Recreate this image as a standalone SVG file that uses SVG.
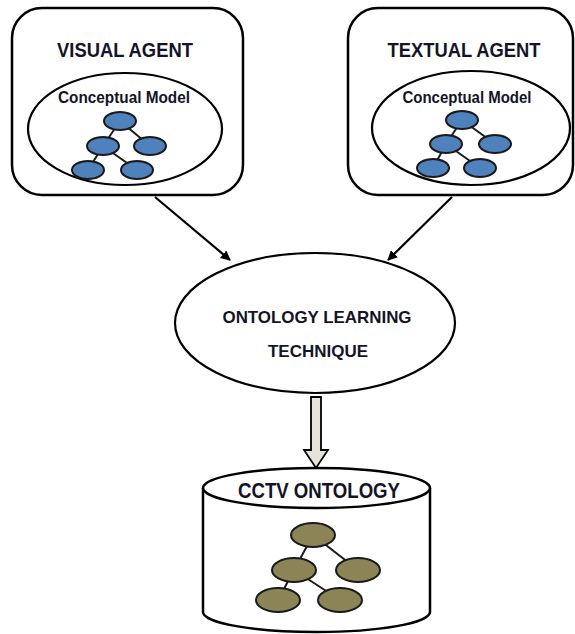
<svg xmlns="http://www.w3.org/2000/svg" width="575" height="634" viewBox="0 0 575 634">
<style>
.box{fill:#fff;stroke:#000;stroke-width:2.5}
.ell{fill:#fff;stroke:#000;stroke-width:2.2}
.t{font-family:"Liberation Sans",Arial,sans-serif;font-weight:bold;fill:#141428;text-anchor:middle}
.bn{fill:#4f81bd;stroke:#1a1a1a;stroke-width:2}
.on{fill:#8a8456;stroke:#1a1a1a;stroke-width:2}
.tl{stroke:#1a1a1a;stroke-width:2}
.c{stroke:#000;stroke-width:2.2;fill:none}
</style>
<defs>
<marker id="ah" markerWidth="10" markerHeight="10" refX="9" refY="5" orient="auto" markerUnits="userSpaceOnUse" viewBox="0 0 10 10">
<path d="M0,0 L10,5 L0,10 z" fill="#000"/>
</marker>
</defs>
<g id="visual-agent">
<rect class="box" x="12" y="8" width="231" height="187" rx="30"/>
<text class="t" x="125" y="57" font-size="19.5" textLength="136" lengthAdjust="spacingAndGlyphs">VISUAL AGENT</text>
<ellipse class="ell" cx="125" cy="129" rx="97" ry="56"/>
<text class="t" x="124" y="103" font-size="16" textLength="132" lengthAdjust="spacingAndGlyphs">Conceptual Model</text>
<line class="tl" x1="120" y1="121" x2="103" y2="146"/>
<line class="tl" x1="120" y1="121" x2="150" y2="146"/>
<line class="tl" x1="103" y1="146" x2="88" y2="170"/>
<line class="tl" x1="103" y1="146" x2="137" y2="170"/>
<ellipse class="bn" cx="120" cy="121" rx="16" ry="9"/>
<ellipse class="bn" cx="103" cy="146" rx="16" ry="9"/>
<ellipse class="bn" cx="150" cy="146" rx="16" ry="9"/>
<ellipse class="bn" cx="88" cy="170" rx="16" ry="9"/>
<ellipse class="bn" cx="137" cy="170" rx="16" ry="9"/>
</g>
<g id="textual-agent">
<rect class="box" x="348" y="8" width="225" height="187" rx="30"/>
<text class="t" x="464" y="57" font-size="19.5" textLength="153" lengthAdjust="spacingAndGlyphs">TEXTUAL AGENT</text>
<ellipse class="ell" cx="471" cy="128" rx="99" ry="57"/>
<text class="t" x="467" y="103" font-size="16" textLength="129" lengthAdjust="spacingAndGlyphs">Conceptual Model</text>
<line class="tl" x1="462" y1="120" x2="446" y2="144"/>
<line class="tl" x1="462" y1="120" x2="495" y2="144"/>
<line class="tl" x1="446" y1="144" x2="433" y2="168"/>
<line class="tl" x1="446" y1="144" x2="480" y2="168"/>
<ellipse class="bn" cx="462" cy="120" rx="16" ry="9"/>
<ellipse class="bn" cx="446" cy="144" rx="16" ry="9"/>
<ellipse class="bn" cx="495" cy="144" rx="16" ry="9"/>
<ellipse class="bn" cx="433" cy="168" rx="16" ry="9"/>
<ellipse class="bn" cx="480" cy="168" rx="16" ry="9"/>
</g>
<g id="ontology-learning">
<ellipse class="ell" cx="315" cy="323" rx="140" ry="70"/>
<text class="t" x="317" y="323" font-size="17" textLength="189" lengthAdjust="spacingAndGlyphs">ONTOLOGY LEARNING</text>
<text class="t" x="318" y="357" font-size="17" textLength="100" lengthAdjust="spacingAndGlyphs">TECHNIQUE</text>
</g>
<g id="cctv-ontology">
<path class="box" d="M203,488 L203,612 A113.5,20 0 0 0 430,612 L430,488"/>
<ellipse class="box" cx="316.5" cy="488" rx="113.5" ry="20"/>
<text class="t" x="319" y="498" font-size="22" textLength="162" lengthAdjust="spacingAndGlyphs">CCTV ONTOLOGY</text>
<line class="tl" x1="313" y1="535" x2="294" y2="570"/>
<line class="tl" x1="313" y1="535" x2="358" y2="570"/>
<line class="tl" x1="294" y1="570" x2="278" y2="600"/>
<line class="tl" x1="294" y1="570" x2="340" y2="600"/>
<ellipse class="on" cx="313" cy="535" rx="22" ry="12"/>
<ellipse class="on" cx="294" cy="570" rx="22" ry="12"/>
<ellipse class="on" cx="358" cy="570" rx="22" ry="12"/>
<ellipse class="on" cx="278" cy="600" rx="22" ry="12"/>
<ellipse class="on" cx="340" cy="600" rx="22" ry="12"/>
</g>
<g id="connectors">
<line class="c" x1="155" y1="197" x2="230" y2="260" marker-end="url(#ah)"/>
<line class="c" x1="452" y1="197" x2="388" y2="260" marker-end="url(#ah)"/>
<path d="M311,397 L321,397 L321,450 L328,450 L316,468 L304,450 L311,450 z" fill="#e6e4da" stroke="#000" stroke-width="1.8"/>
</g>
</svg>
